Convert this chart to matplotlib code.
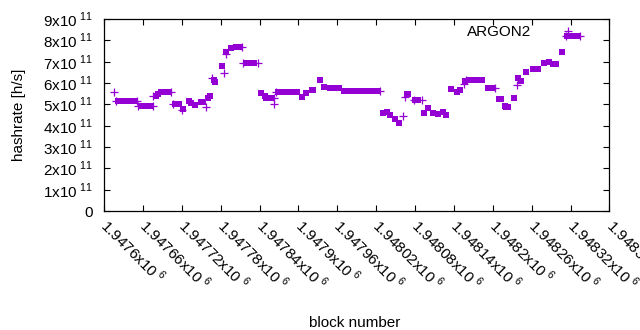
import numpy as np
import matplotlib
matplotlib.use("Agg")
import matplotlib.pyplot as plt

plt.rcParams['font.family'] = ['Liberation Sans', 'DejaVu Sans']
plt.rcParams['mathtext.fontset'] = 'custom'
plt.rcParams['mathtext.rm'] = 'Liberation Sans'

COLOR = '#9400D3'

# плато: блоки с одинаковым значением хешрейта (x1e11)
run_start = [1947622, 1947657, 1947688, 1947710, 1947749, 1947804, 1947820, 1947850,
             1947868, 1947921, 1947948, 1947971, 1948080, 1948164, 1948192, 1948262, 1948315]
run_end = [1947647, 1947672, 1947700, 1947716, 1947753, 1947809, 1947832, 1947859,
           1947899, 1947923, 1947962, 1948023, 1948085, 1948185, 1948200, 1948271, 1948332]
run_value = [5.14, 4.90, 5.56, 5.00, 5.10, 7.67, 6.92, 5.30,
             5.56, 5.66, 5.75, 5.63, 5.19, 6.13, 5.75, 6.67, 8.19]

# отдельные точки (квадраты)
sq_x = [1947680, 1947683, 1947722, 1947731, 1947735, 1947741, 1947761, 1947763,
        1947769, 1947772, 1947782, 1947789, 1947796, 1947842, 1947848, 1947905,
        1947912, 1947933, 1947940, 1948030, 1948036, 1948041, 1948049, 1948055,
        1948067, 1948069, 1948094, 1948100, 1948108, 1948116, 1948123, 1948128,
        1948136, 1948144, 1948150, 1948157, 1948210, 1948212, 1948219, 1948221,
        1948224, 1948232, 1948239, 1948243, 1948251, 1948279, 1948286, 1948293,
        1948298, 1948306]
sq_y = [5.38, 5.50, 4.78, 5.16, 5.05, 4.95, 5.28, 5.39,
        6.14, 6.06, 6.80, 7.47, 7.63, 5.52, 5.40, 5.36,
        5.52, 6.14, 5.81, 4.58, 4.66, 4.50, 4.30, 4.14,
        5.47, 5.47, 4.58, 4.81, 4.58, 4.53, 4.66, 4.50,
        5.70, 5.59, 5.67, 6.11, 5.24, 5.24, 4.94, 4.89,
        4.86, 5.28, 6.22, 6.11, 6.53, 6.95, 7.00, 6.89,
        6.88, 7.47]

# точки-плюсы
plus_x = [1947616, 1947618, 1947651, 1947653, 1947676, 1947676, 1947704, 1947706,
          1947721, 1947758, 1947767, 1947785, 1947788, 1947813, 1947815, 1947837,
          1947862, 1947862, 1947865, 1948026, 1948061, 1948064, 1948079, 1948090,
          1948155, 1948158, 1948204, 1948238, 1948313, 1948316, 1948335]
plus_y = [5.56, 5.14, 5.14, 4.90, 4.90, 5.38, 5.56, 5.00,
          4.72, 4.86, 6.25, 6.48, 7.35, 7.67, 6.92, 6.92,
          5.02, 5.30, 5.56, 5.63, 4.45, 5.33, 5.19, 5.19,
          5.95, 6.13, 5.75, 5.90, 8.19, 8.45, 8.19]

x_ticks = np.arange(1947600, 1948381, 60)
y_ticks = np.arange(0, 10)

fig = plt.figure(figsize=(6.4, 3.3), dpi=100)
ax = fig.add_axes([0.1625, 0.3606, 0.7898, 0.5818])

for s, e, v in zip(run_start, run_end, run_value):
    xs = np.arange(s, e + 1, 2)
    ax.plot(xs, np.full(len(xs), v * 1e11), 's', color=COLOR, ms=4.6, mew=0, ls='none')

ax.plot(sq_x, np.array(sq_y) * 1e11, 's', color=COLOR, ms=4.6, mew=0, ls='none')
ax.plot(plus_x, np.array(plus_y) * 1e11, '+', color=COLOR, ms=5.5, mew=0.9, ls='none')

ax.set_xlim(1947600, 1948380)
ax.set_ylim(0, 9e11)
ax.set_xticks(x_ticks)
ax.set_yticks(y_ticks * 1e11)
ax.set_yticklabels(['0'] + [f'{i}x10$^{{\\ 11}}$' for i in y_ticks[1:]])
xlabels = []
for t in x_ticks:
    m = f'{t / 1e6:.6f}'.rstrip('0')
    xlabels.append(f'{m}x10$^{{\\ 6}}$')
# подписи под углом, начинаются прямо у засечки
ax.set_xticklabels(xlabels, rotation=-45, ha='left', va='center', rotation_mode='anchor')

ax.tick_params(direction='in', length=4, width=0.8, top=True, right=True,
               labelsize=11, colors='black')
ax.tick_params(axis='x', pad=8)
ax.tick_params(axis='y', pad=8)
for sp in ax.spines.values():
    sp.set_linewidth(0.9)

ax.set_xlabel('block number', fontsize=11)
ax.xaxis.set_label_coords(0.495, -0.545)
ax.set_ylabel('hashrate [h/s]', fontsize=11)
ax.yaxis.set_label_coords(-0.155, 0.5)

fig.text(531 / 640, 1 - 32 / 330, 'ARGON2', ha='right', va='center', fontsize=11)

fig.savefig('out.png', dpi=100)
